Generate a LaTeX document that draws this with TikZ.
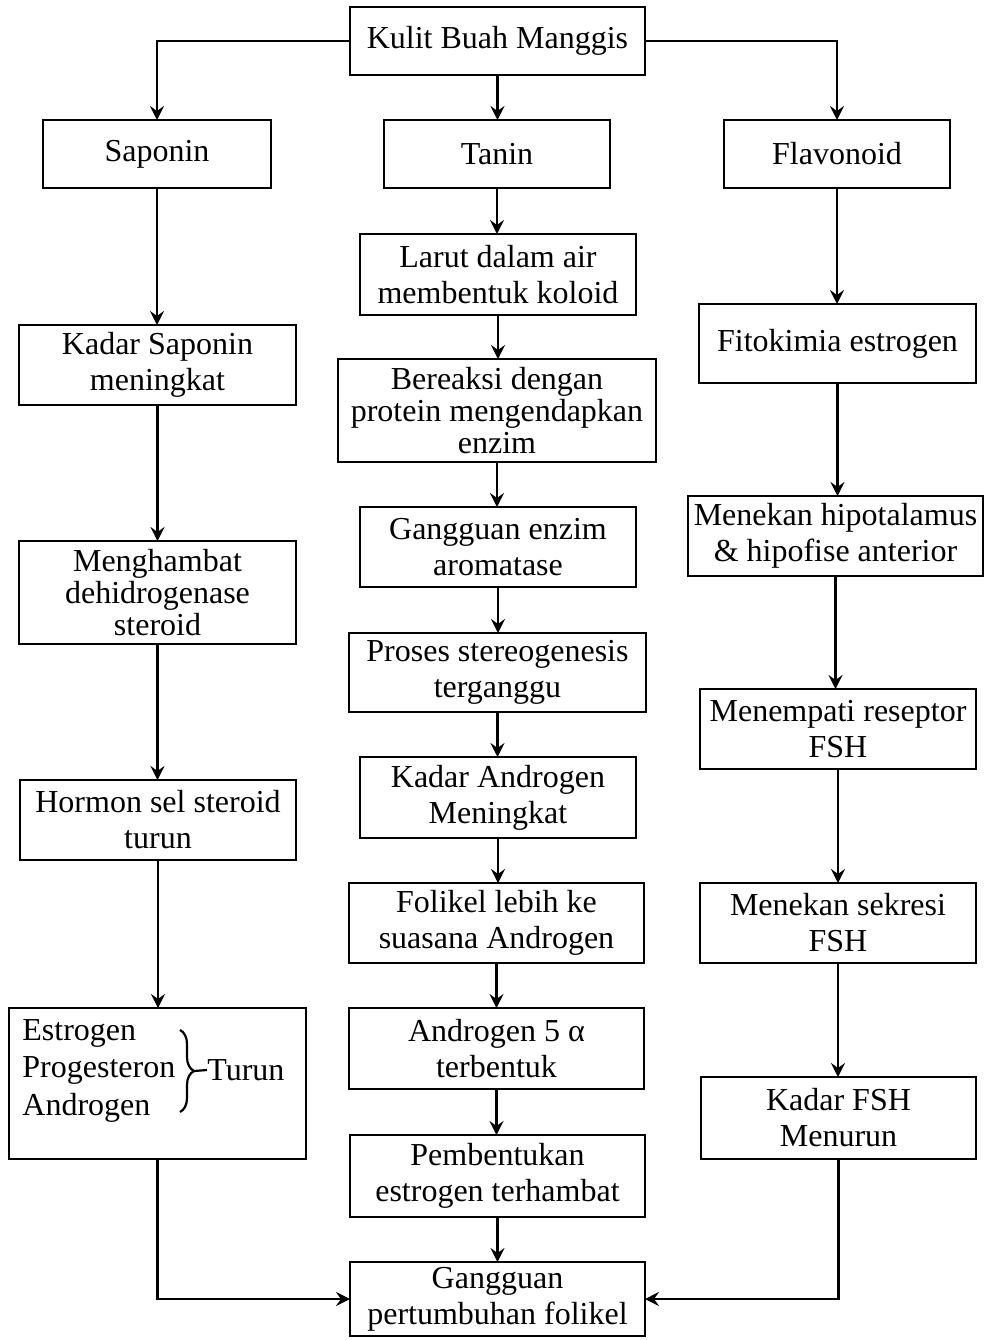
\documentclass[tikz,border=0pt]{standalone}
\usepackage{fontspec}
\setmainfont{Liberation Serif}
\usetikzlibrary{arrows.meta,decorations.pathreplacing}
\tikzset{
  box/.style={draw, line width=1.4pt, inner sep=0pt, outer sep=0pt, align=center,
    font=\fontsize{16}{18}\selectfont},
  tight/.style={font=\fontsize{16}{16.2}\selectfont},
  lbl/.style={inner sep=0pt, font=\fontsize{16}{18}\selectfont},
  arr/.style={line width=1.3pt, -{Stealth[length=7pt,width=7pt,inset=2.5pt]}},
  link/.style={line width=1.1pt}
}
\newcommand{\bx}[7][]{\node[box,#1, minimum width={(#5-#3)*0.5pt}, minimum height={(#6-#4)*0.5pt}] (#2) at ({(#3+#5)/2},{(#4+#6)/2}) {#7};}
\begin{document}
\begin{tikzpicture}[x=0.5pt,y=-0.5pt]
\useasboundingbox (0,0) rectangle (984,1340);
% top
\bx{kulit}{350}{7}{645}{75}{Kulit Buah Manggis}
\bx{saponin}{43}{120}{271}{188}{Saponin}
\bx{tanin}{384}{120}{610}{188}{Tanin}
\bx{flav}{724}{120}{950}{188}{Flavonoid}
% left column
\bx{kadarsap}{19}{325}{296}{405}{Kadar Saponin\\meningkat}
\bx[tight]{menghambat}{19}{541}{296}{644}{Menghambat\\dehidrogenase\\steroid}
\bx{hormon}{20}{780}{296}{860}{Hormon sel steroid\\turun}
\bx{estro}{9}{1008}{306}{1159}{}
% middle column
\bx{larut}{360}{234}{636}{315}{Larut dalam air\\membentuk koloid}
\bx[tight]{bereaksi}{338}{359}{656}{462}{Bereaksi dengan\\protein mengendapkan\\enzim}
\bx{genzim}{360}{507}{636}{587}{Gangguan enzim\\aromatase}
\bx{proses}{349}{633}{646}{712}{Proses stereogenesis\\terganggu}
\bx{kadarandro}{360}{757}{636}{838}{Kadar Androgen\\Meningkat}
\bx{folikel}{349}{883}{644}{963}{Folikel lebih ke\\suasana Androgen}
\bx{andro}{349}{1008}{644}{1089}{Androgen 5 α\\terbentuk}
\bx{pembentukan}{350}{1135}{645}{1217}{Pembentukan\\estrogen terhambat}
\bx{gangguan}{350}{1262}{645}{1336}{Gangguan\\pertumbuhan folikel}
% right column
\bx{fito}{699}{304}{976}{383}{Fitokimia estrogen}
\bx{hipo}{688}{496}{983}{576}{Menekan hipotalamus\\\& hipofise anterior}
\bx{menempati}{700}{689}{976}{769}{Menempati reseptor\\FSH}
\bx{sekresi}{700}{883}{976}{963}{Menekan sekresi\\FSH}
\bx{kfsh}{701}{1077}{976}{1159}{Kadar FSH\\Menurun}
% contents of the hormone box
\node[lbl, anchor=west] (estrogen) at (22,1033) {Estrogen};
\node[lbl, anchor=west] (progesteron) at (22,1070) {Progesteron};
\node[lbl, anchor=west] (androgen) at (22,1108) {Androgen};
\draw[line width=1.1pt, decorate, decoration={brace, amplitude=7pt}] (180,1030) -- (180,1112);
\node[lbl, anchor=west] (turun) at (207,1070) {Turun};
\draw[line width=1.1pt] (194,1071) -- (turun.west);
% connectors
\draw[arr] (kulit.west) -| (saponin.north);
\draw[arr] (kulit.south) -- (kulit.south |- tanin.north);
\draw[arr] (kulit.east) -| (flav.north);
\foreach \a/\b in {saponin/kadarsap, kadarsap/menghambat, menghambat/hormon, hormon/estro,
  tanin/larut, larut/bereaksi, bereaksi/genzim, genzim/proses, proses/kadarandro,
  kadarandro/folikel, folikel/andro, andro/pembentukan, pembentukan/gangguan,
  flav/fito, fito/hipo, hipo/menempati, menempati/sekresi, sekresi/kfsh}
  \draw[arr] (\a.south) -- (\a.south |- \b.north);
\draw[arr] (estro.south) |- (gangguan.west);
\draw[arr] (kfsh.south) |- (gangguan.east);
\end{tikzpicture}
\end{document}
